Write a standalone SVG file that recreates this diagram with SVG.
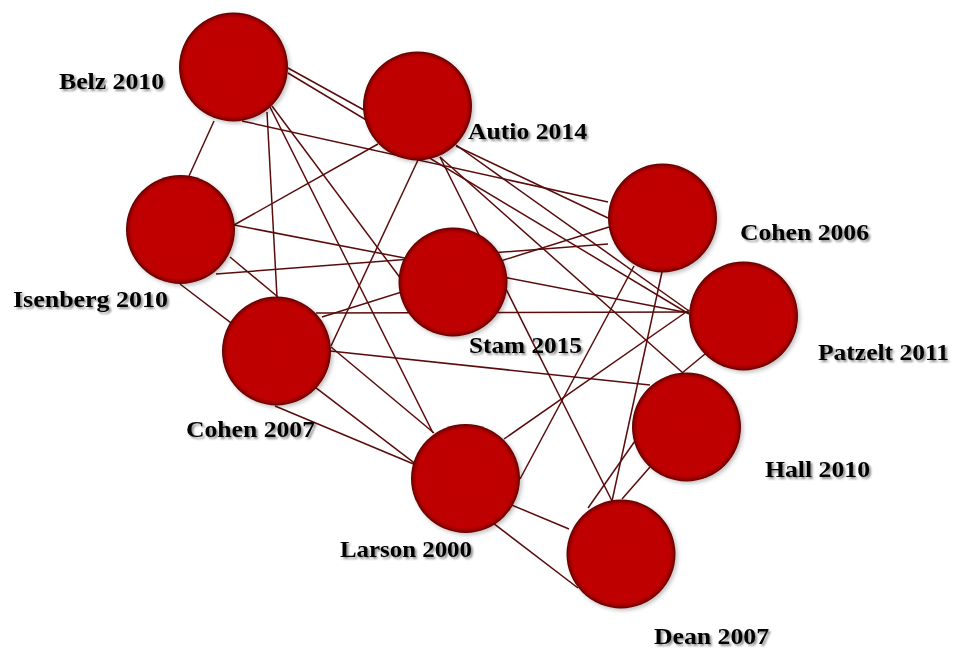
<svg xmlns="http://www.w3.org/2000/svg" width="953" height="648" viewBox="0 0 953 648">
  <style>
    .edge { stroke: #5a0c0c; stroke-width: 1.5; fill: none; }
    .node { fill: url(#nodeFill); filter: url(#nodeShadow); }
    .label { font-family: "Liberation Serif", "DejaVu Serif", serif; font-weight: bold; font-size: 23px; fill: #000; filter: url(#textShadow); }
  </style>
  <defs>
    <radialGradient id="nodeFill" cx="50%" cy="50%" r="50%">
      <stop offset="0" stop-color="#c00000"/>
      <stop offset="0.9" stop-color="#bf0000"/>
      <stop offset="0.96" stop-color="#940000"/>
      <stop offset="1" stop-color="#5a0000"/>
    </radialGradient>
    <filter id="nodeShadow" x="-20%" y="-20%" width="145%" height="145%">
      <feGaussianBlur in="SourceAlpha" stdDeviation="2"/>
      <feOffset dx="2" dy="2" result="sh"/>
      <feComponentTransfer><feFuncA type="linear" slope="0.25"/></feComponentTransfer>
      <feMerge><feMergeNode/><feMergeNode in="SourceGraphic"/></feMerge>
    </filter>
    <filter id="textShadow" x="-10%" y="-30%" width="120%" height="160%">
      <feGaussianBlur in="SourceAlpha" stdDeviation="1"/>
      <feOffset dx="2" dy="2"/>
      <feComponentTransfer><feFuncA type="linear" slope="0.45"/></feComponentTransfer>
      <feMerge><feMergeNode/><feMergeNode in="SourceGraphic"/></feMerge>
    </filter>
  </defs>
  <rect width="953" height="648" fill="#ffffff"/>

  <!-- connectors, drawn beneath the nodes -->
  <g id="connectors">
    <line class="edge" x1="288" y1="68" x2="364" y2="110"/>
    <line class="edge" x1="288" y1="73" x2="689" y2="314"/>
    <line class="edge" x1="214" y1="121" x2="189" y2="176"/>
    <line class="edge" x1="242" y1="121" x2="608" y2="202"/>
    <line class="edge" x1="267" y1="112" x2="277" y2="297"/>
    <line class="edge" x1="270" y1="107" x2="433" y2="433"/>
    <line class="edge" x1="272" y1="106" x2="401" y2="279"/>
    <line class="edge" x1="378" y1="144" x2="234" y2="225"/>
    <line class="edge" x1="418" y1="160" x2="331" y2="346"/>
    <line class="edge" x1="440" y1="157" x2="612" y2="501"/>
    <line class="edge" x1="440" y1="157" x2="683" y2="373"/>
    <line class="edge" x1="456" y1="146" x2="608" y2="218"/>
    <line class="edge" x1="456" y1="145" x2="689" y2="311"/>
    <line class="edge" x1="234" y1="225" x2="689" y2="313"/>
    <line class="edge" x1="216" y1="274" x2="608" y2="244"/>
    <line class="edge" x1="230" y1="257" x2="278" y2="297"/>
    <line class="edge" x1="180" y1="284" x2="578" y2="588"/>
    <line class="edge" x1="316" y1="313" x2="689" y2="312"/>
    <line class="edge" x1="322" y1="317" x2="609" y2="227"/>
    <line class="edge" x1="330" y1="351" x2="650" y2="385"/>
    <line class="edge" x1="331" y1="347" x2="434" y2="433"/>
    <line class="edge" x1="275" y1="406" x2="569" y2="529"/>
    <line class="edge" x1="504" y1="439" x2="689" y2="310"/>
    <line class="edge" x1="520" y1="479" x2="634" y2="266"/>
    <line class="edge" x1="662" y1="272" x2="612" y2="501"/>
    <line class="edge" x1="705" y1="354" x2="682" y2="373"/>
    <line class="edge" x1="588" y1="508" x2="635" y2="441"/>
    <line class="edge" x1="622" y1="499" x2="650" y2="467"/>
  </g>

  <g id="belz2010">
    <circle class="node" cx="233.5" cy="67" r="54.5"/>
    <text class="label" x="59" y="89" textLength="105" lengthAdjust="spacingAndGlyphs">Belz 2010</text>
  </g>
  <g id="autio2014">
    <circle class="node" cx="417.5" cy="106" r="54.5"/>
    <text class="label" x="468" y="139" textLength="119" lengthAdjust="spacingAndGlyphs">Autio 2014</text>
  </g>
  <g id="isenberg2010">
    <circle class="node" cx="180.5" cy="229.5" r="54.5"/>
    <text class="label" x="13" y="307" textLength="155" lengthAdjust="spacingAndGlyphs">Isenberg 2010</text>
  </g>
  <g id="stam2015">
    <circle class="node" cx="453" cy="282" r="54.5"/>
    <text class="label" x="469" y="353" textLength="113" lengthAdjust="spacingAndGlyphs">Stam 2015</text>
  </g>
  <g id="cohen2006">
    <circle class="node" cx="662.5" cy="218" r="54.5"/>
    <text class="label" x="740" y="240" textLength="129" lengthAdjust="spacingAndGlyphs">Cohen 2006</text>
  </g>
  <g id="patzelt2011">
    <circle class="node" cx="743.5" cy="316" r="54.5"/>
    <text class="label" x="818" y="360" textLength="131" lengthAdjust="spacingAndGlyphs">Patzelt 2011</text>
  </g>
  <g id="cohen2007">
    <circle class="node" cx="276.5" cy="351" r="54.5"/>
    <text class="label" x="186" y="437" textLength="129" lengthAdjust="spacingAndGlyphs">Cohen 2007</text>
  </g>
  <g id="hall2010">
    <circle class="node" cx="686.5" cy="427" r="54.5"/>
    <text class="label" x="765" y="477" textLength="105" lengthAdjust="spacingAndGlyphs">Hall 2010</text>
  </g>
  <g id="larson2000">
    <circle class="node" cx="465.5" cy="478.5" r="54.5"/>
    <text class="label" x="340" y="557" textLength="132" lengthAdjust="spacingAndGlyphs">Larson 2000</text>
  </g>
  <g id="dean2007">
    <circle class="node" cx="621" cy="554" r="54.5"/>
    <text class="label" x="654" y="644" textLength="115" lengthAdjust="spacingAndGlyphs">Dean 2007</text>
  </g>
</svg>
